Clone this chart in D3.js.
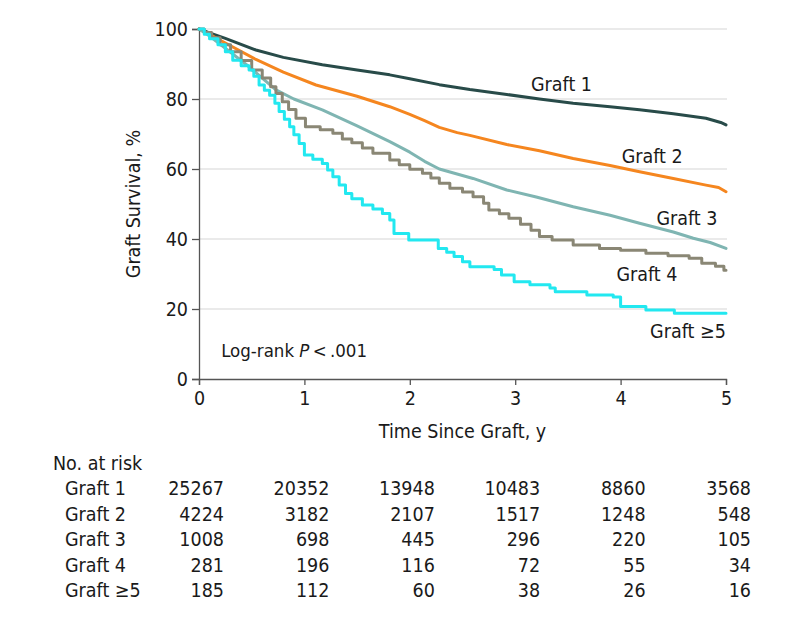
<!DOCTYPE html>
<html>
<head>
<meta charset="utf-8">
<script src="https://cdn.jsdelivr.net/npm/d3@7/dist/d3.min.js"></script>
<style>
  html, body { margin: 0; padding: 0; background: #fff; }
  svg text { font-family: "DejaVu Sans Condensed", "DejaVu Sans", sans-serif; font-stretch: condensed; fill: #1a1a1a; }
</style>
</head>
<body>
<svg id="chart" width="794" height="619"></svg>
<script>
// ---- data ----
const groups = ["Graft 1", "Graft 2", "Graft 3", "Graft 4", "Graft \u22655"];
const timeTicks = [0, 1, 2, 3, 4, 5];
const survTicks = [0, 20, 40, 60, 80, 100];

const graft1 = [[0,100],[0.1,98.9],[0.25,97.3],[0.54,94],[0.8,91.9],[1.17,89.8],[1.5,88.3],[1.81,86.9],[2.0,85.8],[2.28,84.1],[2.57,82.7],[2.92,81.3],[3.23,80],[3.55,78.8],[3.9,77.8],[4.18,76.9],[4.5,75.8],[4.81,74.5],[4.95,73.3],[5,72.6]];
const graft2 = [[0,100],[0.1,98.5],[0.25,96],[0.54,91.3],[0.8,87.7],[1.11,84],[1.5,80.8],[1.81,77.8],[2.0,75.6],[2.14,73.8],[2.28,71.9],[2.45,70.4],[2.57,69.6],[2.92,67],[3.23,65.2],[3.55,63],[3.9,61],[4.18,59.2],[4.5,57.3],[4.81,55.4],[4.93,54.7],[5,53.5]];
const graft3 = [[0,100],[0.1,98],[0.25,94.5],[0.475,89.2],[0.73,82.6],[0.9,80],[1.17,76.9],[1.5,72.3],[1.81,67.8],[2.0,64.8],[2.14,62.2],[2.28,60],[2.6,57.3],[2.92,54],[3.2,52],[3.55,49.2],[3.9,46.8],[4.18,44.5],[4.5,42],[4.69,40.2],[4.85,39],[5,37.3]];
const graft4 = [[0,100],[0.05,99],[0.12,97.5],[0.2,95.5],[0.3,93.5],[0.4,91],[0.5,88.3],[0.6,86],[0.68,83.5],[0.73,81.6],[0.79,79.2],[0.85,77],[0.92,74.5],[1.01,72.1],[1.15,71.2],[1.27,70.2],[1.36,68.6],[1.45,67.5],[1.55,66],[1.65,64.5],[1.81,62.6],[1.9,61.2],[2.0,59.9],[2.12,58.8],[2.2,57.4],[2.28,55.9],[2.38,54.5],[2.5,53.4],[2.6,52.1],[2.7,50.2],[2.75,48.3],[2.85,47.2],[2.94,45.9],[3.05,44.2],[3.15,42.5],[3.23,40.7],[3.35,39.7],[3.55,38.3],[3.8,37.3],[4.0,36.8],[4.24,35.9],[4.45,35.2],[4.65,34.5],[4.77,33.1],[4.9,32.2],[4.98,31.1],[5,31.1]];
const graft5 = [[0,100],[0.05,98.5],[0.1,97.2],[0.18,95.5],[0.25,93.5],[0.32,91.1],[0.4,89.5],[0.475,88.3],[0.52,86.5],[0.57,84],[0.62,82.5],[0.67,81.1],[0.72,78.8],[0.76,76.4],[0.81,74.2],[0.86,72.1],[0.9,69.8],[0.95,67.3],[1.0,64],[1.08,62.8],[1.17,61.6],[1.22,59.7],[1.27,57.8],[1.33,55.4],[1.39,53],[1.45,51.5],[1.55,49.7],[1.65,48.6],[1.74,47.3],[1.81,45.4],[1.85,41.6],[1.99,39.7],[2.27,37.3],[2.35,36.2],[2.42,35],[2.5,33.5],[2.57,32.1],[2.8,31.3],[2.87,29.7],[2.99,27.8],[3.14,26.9],[3.33,26],[3.38,24.9],[3.68,24],[3.93,23.4],[4.0,20.7],[4.24,19.7],[4.51,18.8],[5,18.8]];

const atRiskGraft1 = [25267, 20352, 13948, 10483, 8860, 3568];
const atRiskGraft2 = [4224, 3182, 2107, 1517, 1248, 548];
const atRiskGraft3 = [1008, 698, 445, 296, 220, 105];
const atRiskGraft4 = [281, 196, 116, 72, 55, 34];
const atRiskGraft5 = [185, 112, 60, 38, 26, 16];

// ---- presentation ----
const series = [graft1, graft2, graft3, graft4, graft5];
const atRisk = [atRiskGraft1, atRiskGraft2, atRiskGraft3, atRiskGraft4, atRiskGraft5];
const colors = ["#284b49", "#f5861f", "#7fb5b2", "#8a8775", "#22e8f0"];
const stepped = [false, false, false, true, true];
// label anchors in data units (t, survival), left-aligned baseline
const labelAt = [[3.15, 82.3], [4.01, 61.7], [4.34, 44.0], [3.96, 28.1], [4.28, 11.7]];

const svg = d3.select("#chart");
const x = d3.scaleLinear().domain([0, 5]).range([199, 726]);
const y = d3.scaleLinear().domain([0, 100]).range([379, 29]);
const FS = 19.5;
const FONT = "DejaVu Sans Condensed, DejaVu Sans, sans-serif";

// gridlines
svg.append("g").selectAll("line").data(survTicks.filter(d => d > 0)).join("line")
  .attr("x1", x(0)).attr("x2", x(5) + 1)
  .attr("y1", d => y(d)).attr("y2", d => y(d))
  .attr("stroke", "#d6d6d6").attr("stroke-width", 1.2);

// axes
const yAxis = svg.append("g").attr("transform", `translate(${x(0)},0)`)
  .call(d3.axisLeft(y).tickValues(survTicks).tickSize(7).tickPadding(4).tickFormat(d3.format("d")));
const xAxis = svg.append("g").attr("transform", `translate(0,${y(0)})`)
  .call(d3.axisBottom(x).tickValues(timeTicks).tickSize(6).tickPadding(6).tickFormat(d3.format("d")));
[yAxis, xAxis].forEach(g => {
  g.select(".domain").attr("stroke", "#555").attr("stroke-width", 1.3);
  g.selectAll(".tick line").attr("stroke", "#555").attr("stroke-width", 1.3);
  g.selectAll(".tick text").attr("font-size", FS).attr("font-family", FONT).attr("fill", "#1a1a1a");
});

// curves
series.forEach((s, i) => {
  const line = d3.line().x(d => x(d[0])).y(d => y(d[1]))
    .curve(stepped[i] ? d3.curveStepAfter : d3.curveLinear);
  svg.append("path").datum(s).attr("d", line)
    .attr("fill", "none").attr("stroke", colors[i]).attr("stroke-width", 3)
    .attr("stroke-linejoin", "round").attr("stroke-linecap", "round");
});

// curve labels
svg.append("g").selectAll("text").data(groups).join("text")
  .attr("x", (d, i) => x(labelAt[i][0])).attr("y", (d, i) => y(labelAt[i][1]))
  .attr("font-size", FS).text(d => d);

// log-rank
const lr = svg.append("text").attr("x", x(0.21)).attr("y", y(6.4)).attr("font-size", 18.5);
lr.append("tspan").text("Log-rank ");
lr.append("tspan").attr("font-style", "italic").text("P");
lr.append("tspan").text("\u2009<\u2009.001");

// axis titles
svg.append("text").attr("transform", `translate(140,${(y(0) + y(100)) / 2}) rotate(-90)`)
  .attr("text-anchor", "middle").attr("font-size", FS).text("Graft Survival, %");
svg.append("text").attr("x", (x(0) + x(5)) / 2).attr("y", 438)
  .attr("text-anchor", "middle").attr("font-size", FS).text("Time Since Graft, y");

// number at risk table
const rowY = d3.scalePoint().domain(["head"].concat(groups)).range([470, 597]);
svg.append("text").attr("x", 53).attr("y", rowY("head")).attr("font-size", FS).text("No. at risk");
groups.forEach((g, i) => {
  svg.append("text").attr("x", 65).attr("y", rowY(g)).attr("font-size", FS).text(g);
  svg.append("g").selectAll("text").data(atRisk[i]).join("text")
    .attr("x", (d, j) => x(timeTicks[j]) + 25).attr("y", rowY(g))
    .attr("text-anchor", "end").attr("font-size", FS).text(d => d);
});
</script>
</body>
</html>
